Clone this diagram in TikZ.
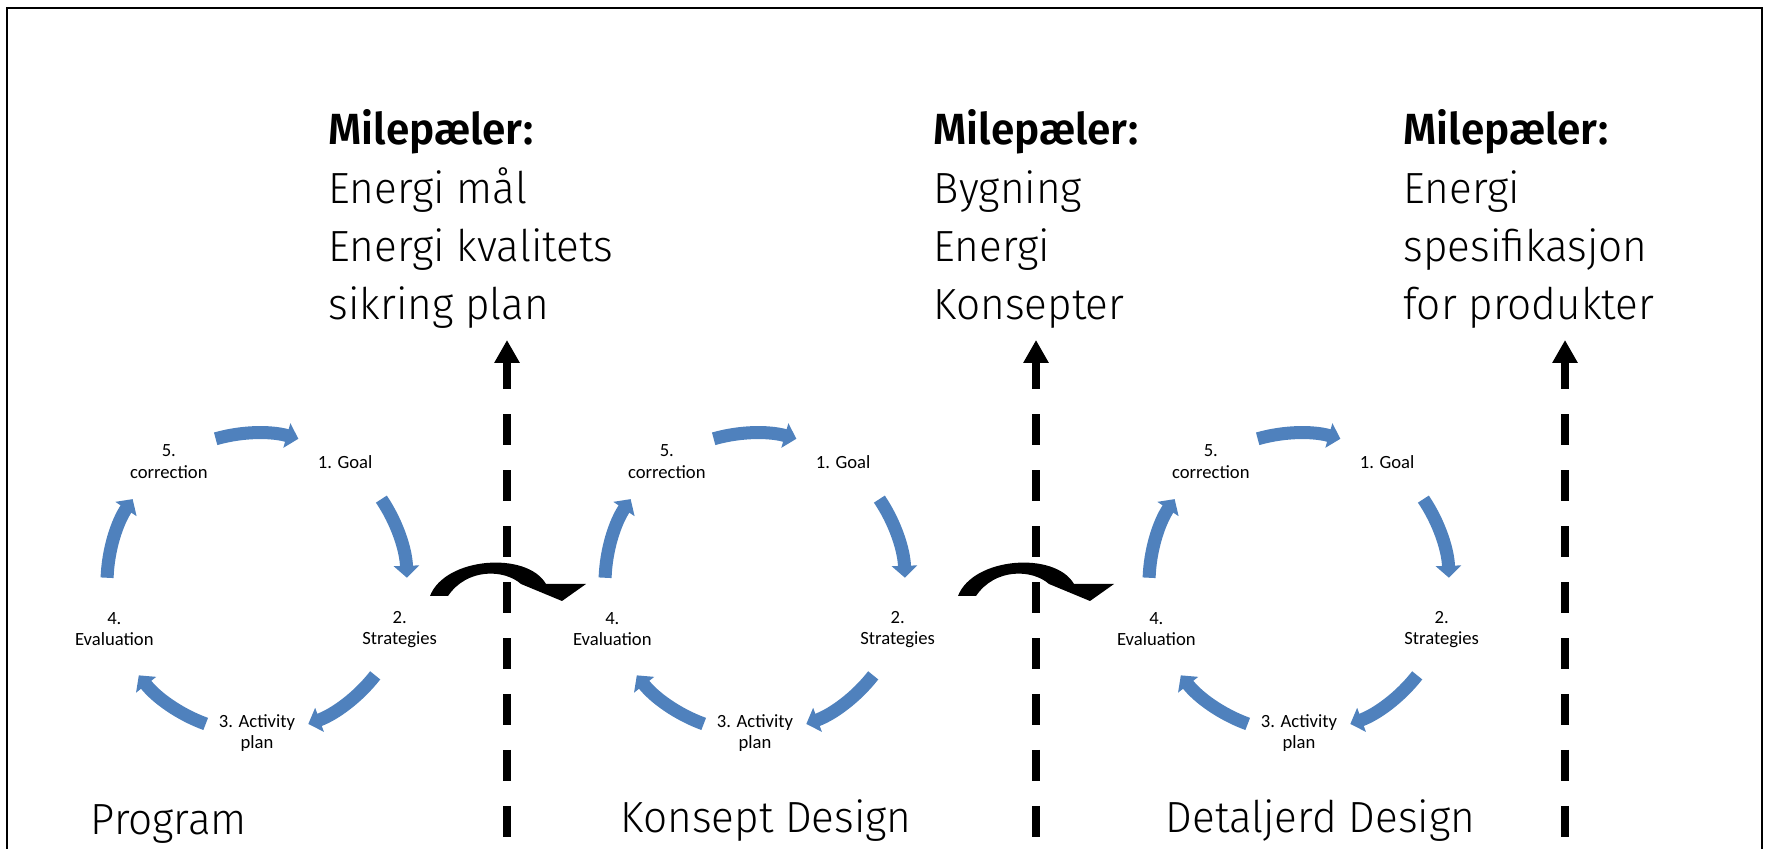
\documentclass[tikz,border=0pt]{standalone}
\usepackage{fontspec}
\setmainfont{Fira Sans}[UprightFont=* Light, BoldFont=* SemiBold, FakeStretch=0.97]
\newfontfamily\smartfont{Carlito}
\usetikzlibrary{arrows.meta}

\definecolor{cycblue}{HTML}{4F81BD}

\tikzset{
    cyclabel/.style={font=\smartfont\fontsize{5.3}{6.1}\selectfont, align=center, inner sep=0pt},
    cycarrow/.style={draw=cycblue, line width=3.7pt, -{Triangle[length=3.4pt, width=7.1pt]}},
    milestone/.style={font=\fontsize{12.4}{16.6}\selectfont, align=left, anchor=base west, inner sep=0pt},
    phase/.style={font=\fontsize{12.4}{15}\selectfont, anchor=base west, inner sep=0pt},
    gate/.style={line width=2.3pt, dash pattern=on 8.8pt off 7.1pt, dash phase=0.85pt, {Triangle[length=6.5pt, width=6.8pt]}-}
}

\begin{document}
\begin{tikzpicture}[x=0.01cm, y=0.01cm]
        \useasboundingbox (0,0) rectangle (1767,849);

        % Frame (open at the bottom)
        \draw[line width=0.7pt] (7,0) -- (7,841) -- (1762,841) -- (1762,0);

        % Milestones (anchored at the baseline of the last line)
        \node[milestone] (ms1) at (328,529) {\textbf{Milepæler:}\\Energi mål\\Energi kvalitets\\sikring plan};
        \node[milestone] (ms2) at (933,529) {\textbf{Milepæler:}\\Bygning\\Energi\\Konsepter};
        \node[milestone] (ms3) at (1403,529) {\textbf{Milepæler:}\\Energi\\spesifikasjon\\for produkter};

        % Gates pointing up to the milestones
        \coordinate (gate1-top) at (507,509);
        \coordinate (gate1-bot) at (507,0);
        \coordinate (gate2-top) at (1036,509);
        \coordinate (gate2-bot) at (1036,0);
        \coordinate (gate3-top) at (1565,509);
        \coordinate (gate3-bot) at (1565,0);
        \draw[gate] (gate1-top) -- (gate1-bot);
        \draw[gate] (gate2-top) -- (gate2-bot);
        \draw[gate] (gate3-top) -- (gate3-bot);

        % Cycles
        \foreach \i/\cx in {1/257, 2/755, 3/1299} {
            \coordinate (cyc\i) at (\cx,266);
            \node[cyclabel] (goal\i) at ([shift={(54:150)}]cyc\i) {1. Goal};
            \node[cyclabel] (strat\i) at ([shift={(-18:150)}]cyc\i) {2.\\Strategies};
            \node[cyclabel] (act\i) at ([shift={(-90:150)}]cyc\i) {3. Activity\\plan};
            \node[cyclabel] (eval\i) at ([shift={(-162:150)}]cyc\i) {4.\\Evaluation};
            \node[cyclabel] (corr\i) at ([shift={(126:150)}]cyc\i) {5.\\correction};
            \foreach \a in {90, 18, -54, -126, -198}
                \draw[cycarrow] ([shift={(\a+16:150)}]cyc\i) arc[start angle=\a+16, end angle=\a-16, radius=150];
        }

        % Jumps from one phase to the next
        \foreach \dx in {0, 528}
            \fill[shift={(\dx,0)}] (430,253) .. controls (445,292) and (527,298) .. (546,265)
                -- (586,265) -- (562,248) -- (521,265)
                .. controls (504,280) and (467,281) .. (448,253) -- cycle;

        % Phases
        \node[phase] (phase1) at (90,14) {Program};
        \node[phase] (phase2) at (620,16) {Konsept Design};
        \node[phase] (phase3) at (1165,16) {Detaljerd Design};

    \end{tikzpicture}
\end{document}
